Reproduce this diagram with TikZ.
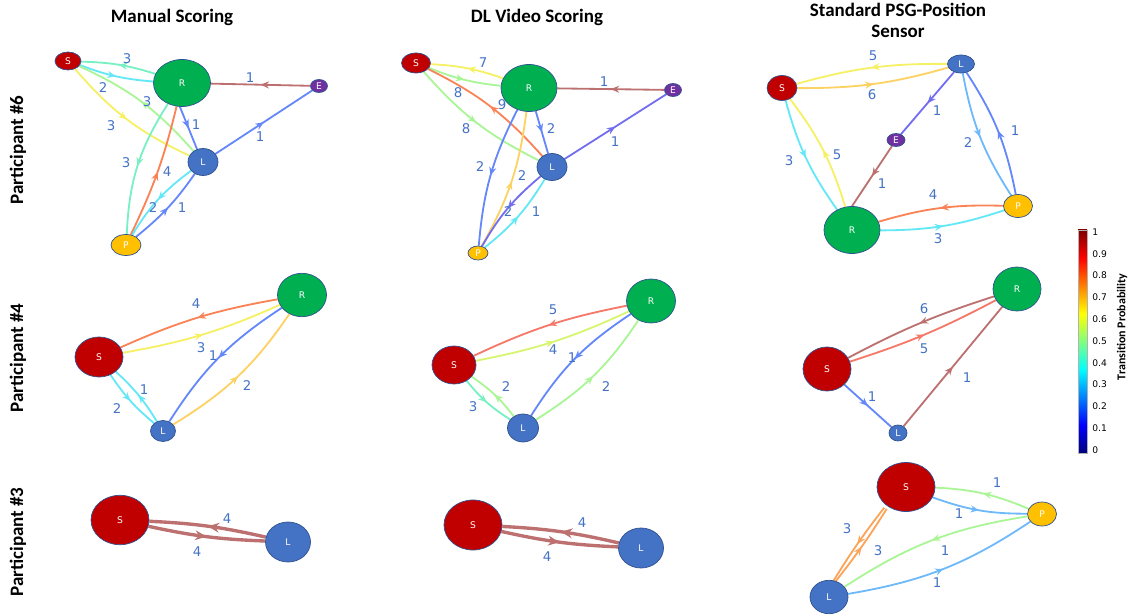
\documentclass[tikz,border=0pt]{standalone}
\usepackage{fontspec}
\setmainfont{Carlito}
\newfontfamily\vfont{DejaVu Sans}
\usetikzlibrary{shapes.geometric,arrows.meta,decorations.markings,backgrounds}

\definecolor{stS}{RGB}{192,0,0}
\definecolor{stR}{RGB}{0,176,80}
\definecolor{stL}{RGB}{68,114,196}
\definecolor{stP}{RGB}{255,192,0}
\definecolor{stE}{RGB}{112,48,160}
\definecolor{rim}{RGB}{47,82,143}
\definecolor{numc}{RGB}{68,114,196}
\definecolor{cBr}{RGB}{188,112,112}
\definecolor{cRd}{RGB}{245,120,105}
\definecolor{cOr}{RGB}{250,130,85}
\definecolor{cAm}{RGB}{250,165,90}
\definecolor{cYo}{RGB}{252,210,100}
\definecolor{cYe}{RGB}{245,240,100}
\definecolor{cYg}{RGB}{215,245,110}
\definecolor{cLg}{RGB}{170,245,150}
\definecolor{cAq}{RGB}{120,240,195}
\definecolor{cCy}{RGB}{100,232,245}
\definecolor{cLb}{RGB}{110,185,250}
\definecolor{cBl}{RGB}{100,135,250}
\definecolor{cPu}{RGB}{115,110,240}
\definecolor{jetlo}{RGB}{0,0,128}
\definecolor{jethi}{RGB}{128,0,0}
\pgfdeclareverticalshading{jetbar}{100bp}{color(0bp)=(jetlo); color(25bp)=(jetlo); color(31.25bp)=(blue); color(43.75bp)=(cyan); color(56.25bp)=(yellow); color(68.75bp)=(red); color(75bp)=(jethi); color(100bp)=(jethi)}

\begin{document}
\begin{tikzpicture}[x=0.025cm,y=-0.025cm,>=latex]
\tikzstyle{st}=[ellipse,draw=rim,line width=0.5pt,inner sep=0pt,text=white,font=\vfont\fontsize{6.5}{7}\selectfont]
\tikzstyle{num}=[text=numc,inner sep=0pt,font=\vfont\fontsize{9.5}{10}\selectfont]
\tikzstyle{hd}=[font=\bfseries\fontsize{13.5}{15}\selectfont,align=center]
\tikzset{mid/.style={postaction={decorate,decoration={markings,mark=at position #1 with {\arrow{Stealth[length=6pt,width=5pt]}}}}},mid/.default=0.5}
\tikzset{midb/.style={postaction={decorate,decoration={markings,mark=at position #1 with {\arrow{Stealth[length=8pt,width=7pt]}}}}},midb/.default=0.5}
\tikzstyle{tr}=[line width=1.3pt,mid]
\tikzstyle{fat}=[line width=2.4pt,midb]
\useasboundingbox (0,0) rectangle (1130,616);

\node[hd] (t1) at (172,17) {Manual Scoring};
\node[hd] (t2) at (537,17) {DL Video Scoring};
\node[hd] (t3) at (898,20) {Standard PSG-Position\\Sensor};
\node[hd,rotate=90] (row6) at (18,150) {Participant \#6};
\node[hd,rotate=90] (row4) at (18,358) {Participant \#4};
\node[hd,rotate=90] (row3) at (18,542) {Participant \#3};

% participant 6
\node[st,fill=stS,minimum width=0.65cm,minimum height=0.45cm] (s1) at (68,61) {S};
\node[st,fill=stR,minimum width=1.425cm,minimum height=1.175cm] (r1) at (182,83) {R};
\node[st,fill=stE,minimum width=0.425cm,minimum height=0.325cm] (e1) at (319,86) {E};
\node[st,fill=stL,minimum width=0.75cm,minimum height=0.675cm] (l1) at (203,162) {L};
\node[st,fill=stP,minimum width=0.75cm,minimum height=0.525cm] (p1) at (126,245) {P};

\node[st,fill=stS,minimum width=0.725cm,minimum height=0.5cm] (s2) at (416,63) {S};
\node[st,fill=stR,minimum width=1.4cm,minimum height=1.175cm] (r2) at (529,88) {R};
\node[st,fill=stE,minimum width=0.425cm,minimum height=0.325cm] (e2) at (673,90) {E};
\node[st,fill=stL,minimum width=0.75cm,minimum height=0.675cm] (l2) at (552,167) {L};
\node[st,fill=stP,minimum width=0.5cm,minimum height=0.35cm] (p2) at (478,253) {P};

\node[st,fill=stS,minimum width=0.75cm,minimum height=0.625cm] (s3) at (782,88) {S};
\node[st,fill=stL,minimum width=0.675cm,minimum height=0.45cm] (l3) at (961,64) {L};
\node[st,fill=stE,minimum width=0.45cm,minimum height=0.325cm] (e3) at (896,140) {E};
\node[st,fill=stR,minimum width=1.4cm,minimum height=1.175cm] (r3) at (852,230) {R};
\node[st,fill=stP,minimum width=0.725cm,minimum height=0.575cm] (p3) at (1018,206) {P};

% participant 4
\node[st,fill=stR,minimum width=1.225cm,minimum height=1.085cm] (r4) at (302,295) {R};
\node[st,fill=stS,minimum width=1.2cm,minimum height=1cm] (s4) at (99,357) {S};
\node[st,fill=stL,minimum width=0.625cm,minimum height=0.525cm] (l4) at (163,431) {L};

\node[st,fill=stR,minimum width=1.225cm,minimum height=1.1cm] (r5) at (651,301) {R};
\node[st,fill=stS,minimum width=1.1cm,minimum height=0.95cm] (s5) at (454,365) {S};
\node[st,fill=stL,minimum width=0.775cm,minimum height=0.7cm] (l5) at (523,428) {L};

\node[st,fill=stR,minimum width=1.2cm,minimum height=1.1cm] (r6) at (1017,289) {R};
\node[st,fill=stS,minimum width=1.2cm,minimum height=1.1cm] (s6) at (827,369) {S};
\node[st,fill=stL,minimum width=0.45cm,minimum height=0.4cm] (l6) at (898,433) {L};

% participant 3
\node[st,fill=stS,minimum width=1.45cm,minimum height=1.235cm] (s7) at (120,520) {S};
\node[st,fill=stL,minimum width=1.125cm,minimum height=1cm] (l7) at (288,542) {L};

\node[st,fill=stS,minimum width=1.45cm,minimum height=1.25cm] (s8) at (473,525) {S};
\node[st,fill=stL,minimum width=1.125cm,minimum height=1cm] (l8) at (641,548) {L};

\node[st,fill=stS,minimum width=1.45cm,minimum height=1.225cm] (s9) at (906,487) {S};
\node[st,fill=stP,minimum width=0.725cm,minimum height=0.6cm] (p9) at (1042,514) {P};
\node[st,fill=stL,minimum width=0.95cm,minimum height=0.835cm] (l9) at (829,597) {L};

\begin{pgfonlayer}{background}
\draw[tr,cAq] (r1) to[bend right=8] (s1);
\draw[tr,cCy] (s1) to[bend right=8] (r1);
\draw[tr,cLg] (l1) to[bend right=12] (s1);
\draw[tr,cYe] (s1) to[bend right=12] (l1);
\draw[tr,cBl] (r1.-95) -- (l1.115);
\draw[tr,cBr] (e1) -- (r1);
\draw[tr,cBl] (l1) -- (e1);
\draw[tr,cAq] (r1) to[bend right=15] (p1);
\draw[tr,cOr] (p1) to[bend right=6] (r1);
\draw[tr,cCy] (l1) to[bend right=11] (p1);
\draw[tr,cBl] (p1) to[bend right=8] (l1);

\draw[tr,cYe] (r2) to[bend right=8] (s2);
\draw[tr,cLg] (s2) to[bend right=8] (r2);
\draw[tr,cOr] (l2) to[bend right=11] (s2);
\draw[tr,cLg] (s2) to[bend right=11] (l2);
\draw[tr,cBl] (r2) -- (l2);
\draw[tr,cBr] (e2) -- (r2);
\draw[tr,cPu] (l2) -- (e2);
\draw[tr,cBl] (r2) to[bend right=11] (p2);
\draw[tr,cYo] (p2) to[bend right=11] (r2);
\draw[tr,cPu] (l2) to[bend right=10] (p2);
\draw[tr,cCy] (p2) to[bend right=10] (l2);

\draw[tr,cYe] (l3) to[bend right=8] (s3);
\draw[tr,cYo] (s3) to[bend right=8] (l3);
\draw[tr,cPu] (l3) -- (e3);
\draw[tr,cBr] (e3) -- (r3.north);
\draw[tr,cCy] (s3) to[bend right=10] (r3);
\draw[tr,cYe] (r3) to[bend right=10] (s3);
\draw[tr,cLb] (l3) to[bend right=11] (p3);
\draw[tr,cBl] (p3) to[bend right=11] (l3);
\draw[tr,cOr] (p3) to[bend right=9] (r3);
\draw[tr,cCy] (r3) to[bend right=9] (p3);

\draw[tr,cOr] (r4) to[bend right=7] (s4);
\draw[tr,cYe] (s4) to[bend right=7] (r4);
\draw[tr,cBl] (r4) to[bend right=12] (l4);
\draw[tr,cYo] (l4) to[bend right=12] (r4);
\draw[tr,cCy] (s4) to[bend right=8] (l4);
\draw[tr,cCy] (l4) to[bend right=8] (s4);

\draw[tr,cRd] (r5) to[bend right=7] (s5);
\draw[tr,cYg] (s5) to[bend right=7] (r5);
\draw[tr,cBl] (r5) to[bend right=12] (l5);
\draw[tr,cLg] (l5) to[bend right=12] (r5);
\draw[tr,cAq] (s5) to[bend right=9] (l5);
\draw[tr,cLg] (l5) to[bend right=9] (s5);

\draw[tr,cBr] (r6) to[bend right=5] (s6);
\draw[tr,cRd] (s6) to[bend right=5] (r6);
\draw[tr,cBl] (s6) -- (l6);
\draw[tr,cBr] (l6) -- (r6);

\draw[fat,cBr] (l7) to[bend right=5] (s7);
\draw[fat,cBr] (s7) to[bend right=5] (l7);

\draw[fat,cBr] (l8) to[bend right=5] (s8);
\draw[fat,cBr] (s8) to[bend right=5] (l8);

\draw[tr,cLg] (p9) to[bend right=10] (s9);
\draw[tr,cLb] (s9) to[bend right=10] (p9);
\draw[tr,cAm,transform canvas={xshift=-4pt}] (s9) to[bend right=3] (l9);
\draw[tr,cAm,transform canvas={xshift=-4pt}] (l9) to[bend right=3] (s9);
\draw[tr,cLg] (p9) to[bend right=12] (l9);
\draw[tr,cLb] (l9) to[bend right=12] (p9);
\end{pgfonlayer}

\foreach \t/\x/\y [count=\k] in {3/127/59,2/103/88,3/147/102,3/111/126,1/196/125,1/250/78,1/260/137,3/126/163,4/167/172,2/153/208,1/182/208}
  \node[num] (a\k) at (\x,\y) {\t};
\foreach \t/\x/\y [count=\k] in {7/483/63,8/458/93,9/502/105,8/466/129,2/551/129,1/604/82,1/615/142,2/480/167,2/522/176,2/508/212,1/536/212}
  \node[num] (b\k) at (\x,\y) {\t};
\foreach \t/\x/\y [count=\k] in {5/873/56,6/872/95,1/937/111,1/882/184,3/789/161,5/837/155,2/968/143,1/1015/131,4/933/195,3/938/239}
  \node[num] (c\k) at (\x,\y) {\t};
\foreach \t/\x/\y [count=\k] in {4/196/304,3/201/348,1/213/356,2/247/386,2/117/409,1/144/390}
  \node[num] (d\k) at (\x,\y) {\t};
\foreach \t/\x/\y [count=\k] in {5/553/310,4/553/350,1/572/358,2/606/387,3/473/407,2/506/387}
  \node[num] (f\k) at (\x,\y) {\t};
\foreach \t/\x/\y [count=\k] in {6/924/309,5/924/349,1/872/397,1/967/378}
  \node[num] (g\k) at (\x,\y) {\t};
\foreach \t/\x/\y [count=\k] in {4/227/519,4/197/552,4/582/523,4/547/557}
  \node[num] (h\k) at (\x,\y) {\t};
\foreach \t/\x/\y [count=\k] in {1/997/483,1/959/514,3/847/529,3/878/551,1/945/551,1/937/583}
  \node[num] (i\k) at (\x,\y) {\t};

% colour bar
\shadedraw[shading=jetbar,draw=gray!60,line width=0.3pt] (1078,230) rectangle (1087,453);
\foreach \i/\t in {0/0,1/0.1,2/0.2,3/0.3,4/0.4,5/0.5,6/0.6,7/0.7,8/0.8,9/0.9,10/1}
  \node[anchor=west,inner sep=0pt,font=\vfont\fontsize{6.5}{7}\selectfont] (k\i) at (1092,{450-21.8*\i}) {\t};
\node[rotate=90,font=\bfseries\fontsize{8.5}{9}\selectfont] (cbt) at (1122,327) {Transition Probability};
\end{tikzpicture}
\end{document}
